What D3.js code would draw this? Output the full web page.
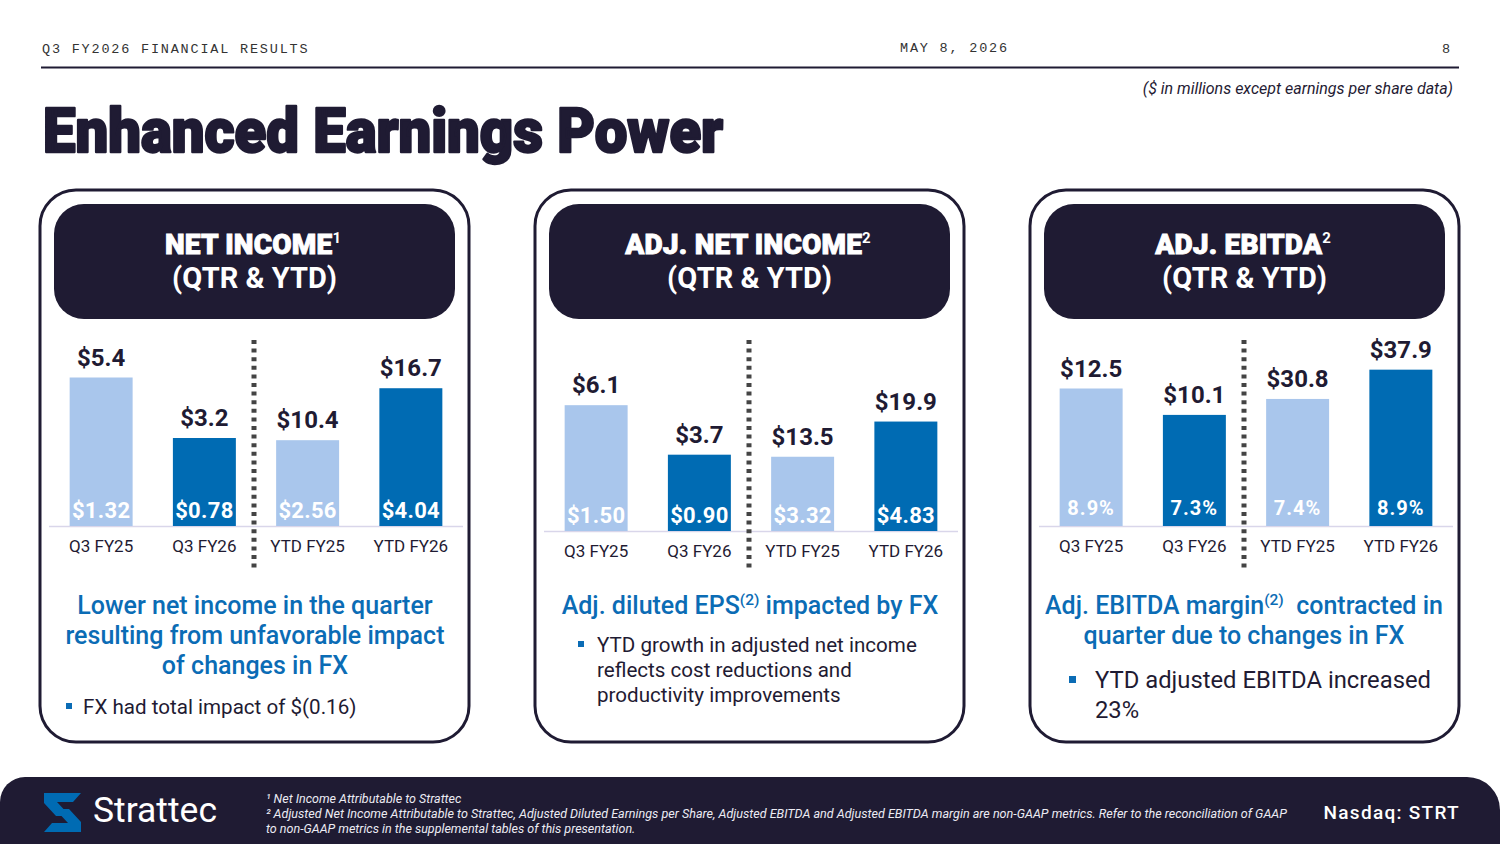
<!DOCTYPE html>
<html>
<head>
<meta charset="utf-8">
<script src="https://cdn.jsdelivr.net/npm/d3@7"></script>
<style>
  body { margin: 0; background: #ffffff; }
  svg { display: block; font-family: Roboto, "Noto Sans", sans-serif; }
</style>
</head>
<body>
<div id="chart"></div>
<script>
// data
const categories = ["Q3 FY25", "Q3 FY26", "YTD FY25", "YTD FY26"];
const panelTitles = ["NET INCOME", "ADJ. NET INCOME", "ADJ. EBITDA"];
const panelNotes = ["1", "2", "2"];
const netIncome = [5.4, 3.2, 10.4, 16.7];
const netIncomeEps = ["$1.32", "$0.78", "$2.56", "$4.04"];
const adjNetIncome = [6.1, 3.7, 13.5, 19.9];
const adjDilutedEps = ["$1.50", "$0.90", "$3.32", "$4.83"];
const adjEbitda = [12.5, 10.1, 30.8, 37.9];
const adjEbitdaMargin = ["8.9%", "7.3%", "7.4%", "8.9%"];
// each half (quarter / year to date) has its own value axis
const qtrAxisMax = [6, 8, 15];
const ytdAxisMax = [20, 30, 40];

const series = [netIncome, adjNetIncome, adjEbitda];
const innerLabels = [netIncomeEps, adjDilutedEps, adjEbitdaMargin];

const navy = "#1f1b33";
const blue = "#006bb3";
const lightBlue = "#a9c6ec";
const textBlue = "#0b6cb5";

let width = 1500, height = 844;

let svg = d3.select("#chart").append("svg")
    .attr("width", width)
    .attr("height", height);

// top strip
const mono = "'Liberation Mono', 'DejaVu Sans Mono', monospace";
svg.append("text").attr("x", 42).attr("y", 53)
    .attr("font-family", mono).attr("font-size", 13.5).attr("letter-spacing", 1.8)
    .attr("fill", "#333").text("Q3 FY2026 FINANCIAL RESULTS");
svg.append("text").attr("x", 900).attr("y", 52)
    .attr("font-family", mono).attr("font-size", 13.5).attr("letter-spacing", 1.8)
    .attr("fill", "#333").text("MAY 8, 2026");
svg.append("text").attr("x", 1450).attr("y", 53).attr("text-anchor", "end")
    .attr("font-family", mono).attr("font-size", 13.5)
    .attr("fill", "#333").text("8");
svg.append("line").attr("x1", 41).attr("x2", 1459).attr("y1", 67.5).attr("y2", 67.5)
    .attr("stroke", navy).attr("stroke-width", 2);

svg.append("text").attr("x", 1453).attr("y", 94).attr("text-anchor", "end")
    .attr("font-size", 16).attr("font-style", "italic").attr("fill", navy)
    .text("($ in millions except earnings per share data)");

// title (stroked to get the heavy display weight)
svg.append("text").attr("x", 43).attr("y", 152)
    .attr("font-size", 62).attr("font-weight", 900).attr("fill", navy)
    .attr("stroke", navy).attr("stroke-width", 2.4).attr("stroke-linejoin", "round")
    .attr("textLength", 680).attr("lengthAdjust", "spacingAndGlyphs")
    .text("Enhanced Earnings Power");

// panels
const panelX = [40, 535, 1030];
const baseY = [526, 531, 526];
const plotH = 165;

panelX.forEach((px, p) => {
    let g = svg.append("g");

    g.append("rect")
        .attr("x", px).attr("y", 190).attr("width", 429).attr("height", 552)
        .attr("rx", 36).attr("fill", "#fff")
        .attr("stroke", navy).attr("stroke-width", 3);

    g.append("rect")
        .attr("x", px + 14).attr("y", 204).attr("width", 401).attr("height", 115)
        .attr("rx", 30).attr("fill", navy);

    let cx = px + 213;
    let t1 = g.append("text").attr("x", cx).attr("y", 254)
        .attr("text-anchor", "middle").attr("fill", "#fff")
        .attr("font-size", 28).attr("font-weight", 900).attr("letter-spacing", 0.2);
    t1.append("tspan").attr("stroke", "#fff").attr("stroke-width", 0.9).text(panelTitles[p]);
    t1.append("tspan").attr("font-size", 15).attr("dy", -11).attr("font-weight", 700)
        .attr("letter-spacing", 0).text(panelNotes[p]);
    g.append("text").attr("x", px + 214.5).attr("y", 288)
        .attr("text-anchor", "middle").attr("fill", "#fff")
        .attr("font-size", 29).attr("font-weight", 700)
        .text("(QTR & YTD)");

    // bars
    let base = baseY[p];
    let x = d3.scaleBand().domain(categories)
        .range([px + 9, px + 423]).paddingInner(0.39).paddingOuter(0.2);
    let yQ = d3.scaleLinear().domain([0, qtrAxisMax[p]]).range([base, base - plotH]);
    let yY = d3.scaleLinear().domain([0, ytdAxisMax[p]]).range([base, base - plotH]);
    let yFor = (i) => (i < 2 ? yQ : yY);

    g.append("line")
        .attr("x1", px + 9).attr("x2", px + 423)
        .attr("y1", base + 0.5).attr("y2", base + 0.5)
        .attr("stroke", "#d9d6ea").attr("stroke-width", 1.5);

    let data = series[p];
    g.selectAll("rect.bar").data(data).enter().append("rect")
        .attr("class", "bar")
        .attr("x", (d, i) => x(categories[i]))
        .attr("y", (d, i) => yFor(i)(d))
        .attr("width", x.bandwidth())
        .attr("height", (d, i) => base - yFor(i)(d))
        .attr("fill", (d, i) => (i % 2 === 0 ? lightBlue : blue));

    g.selectAll("text.value").data(data).enter().append("text")
        .attr("class", "value")
        .attr("x", (d, i) => x(categories[i]) + x.bandwidth() / 2)
        .attr("y", (d, i) => yFor(i)(d) - 12)
        .attr("text-anchor", "middle")
        .attr("font-size", 24).attr("font-weight", 700).attr("fill", navy)
        .text(d => "$" + d.toFixed(1));

    g.selectAll("text.inner").data(innerLabels[p]).enter().append("text")
        .attr("class", "inner")
        .attr("x", (d, i) => x(categories[i]) + x.bandwidth() / 2)
        .attr("y", (d, i) => base - (p === 2 ? 11 : 8))
        .attr("text-anchor", "middle")
        .attr("font-size", p === 2 ? 20 : 22).attr("font-weight", 700)
        .attr("letter-spacing", p === 2 ? 1 : 0.3)
        .attr("fill", "#fff")
        .text(d => d);

    g.selectAll("text.cat").data(categories).enter().append("text")
        .attr("class", "cat")
        .attr("x", d => x(d) + x.bandwidth() / 2)
        .attr("y", base + 26)
        .attr("text-anchor", "middle")
        .attr("font-size", 17).attr("fill", navy)
        .text(d => d);

    let divX = (x(categories[1]) + x.bandwidth() + x(categories[2])) / 2 - 2;
    g.append("line")
        .attr("x1", divX).attr("x2", divX)
        .attr("y1", 340).attr("y2", 569)
        .attr("stroke", "#444").attr("stroke-width", 5)
        .attr("stroke-dasharray", "4,4.6");
});

// commentary under each chart
function headline(lines, cx, y0) {
    lines.forEach((parts, k) => {
        let t = svg.append("text").attr("x", cx).attr("y", y0 + k * 30)
            .attr("text-anchor", "middle").attr("fill", textBlue)
            .attr("font-size", 25).attr("font-weight", 500);
        parts.forEach(part => {
            if (typeof part === "string") {
                t.append("tspan").text(part);
            } else {
                t.append("tspan").attr("font-size", 15.5).attr("dy", -9).text(part.note);
                t.append("tspan").attr("dy", 9).text(part.after);
            }
        });
    });
}

function bullet(lines, bx, by, size, tx, ty, fontSize, lh) {
    svg.append("rect").attr("x", bx).attr("y", by).attr("width", size).attr("height", size)
        .attr("fill", textBlue);
    lines.forEach((line, k) => {
        svg.append("text").attr("x", tx).attr("y", ty + k * lh)
            .attr("font-size", fontSize).attr("fill", navy).text(line);
    });
}

headline([["Lower net income in the quarter"], ["resulting from unfavorable impact"], ["of changes in FX"]], 255, 614);
bullet(["FX had total impact of $(0.16)"], 66, 703, 6, 83, 714, 20.6, 25);

headline([["Adj. diluted EPS", { note: "(2)", after: " impacted by FX" }]], 750, 614);
bullet(["YTD growth in adjusted net income", "reflects cost reductions and", "productivity improvements"],
    578, 641, 6, 597, 652, 20.6, 25);

headline([["Adj. EBITDA margin", { note: "(2)", after: "\u00A0 contracted in" }], ["quarter due to changes in FX"]], 1244, 614);
bullet(["YTD adjusted EBITDA increased", "23%"], 1069, 676, 7, 1095, 688, 23.8, 30);

// footer band
svg.append("path")
    .attr("d", "M0,844 L0,802 A25,25 0 0 1 25,777 L1467,777 A33,33 0 0 1 1500,810 L1500,844 Z")
    .attr("fill", navy);

// logo mark
svg.append("path")
    .attr("d", "M44,793 L81,793 L73,802 L57,802 L70,816 L56,816 L44,803 Z")
    .attr("fill", blue);
svg.append("path")
    .attr("d", "M81,832 L44,832 L52,823 L68,823 L55,809 L69,809 L81,822 Z")
    .attr("fill", blue);
svg.append("text").attr("x", 93).attr("y", 822)
    .attr("font-size", 35.5).attr("fill", "#fff").text("Strattec");

// footnotes
const foot = svg.append("g").attr("font-size", 12.5).attr("font-style", "italic").attr("fill", "#ecebf3");
foot.append("text").attr("x", 266).attr("y", 803)
    .text("\u00B9 Net Income Attributable to Strattec");
foot.append("text").attr("x", 266).attr("y", 818)
    .attr("textLength", 1021).attr("lengthAdjust", "spacingAndGlyphs")
    .text("\u00B2 Adjusted Net Income Attributable to Strattec, Adjusted Diluted Earnings per Share, Adjusted EBITDA and Adjusted EBITDA margin are non-GAAP metrics.  Refer to the reconciliation of GAAP");
foot.append("text").attr("x", 266).attr("y", 833)
    .text("to non-GAAP metrics in the supplemental tables of this presentation.");

svg.append("text").attr("x", 1460).attr("y", 819).attr("text-anchor", "end")
    .attr("font-size", 19).attr("font-weight", 500).attr("letter-spacing", 1.3)
    .attr("fill", "#fff").text("Nasdaq: STRT");
</script>
</body>
</html>
